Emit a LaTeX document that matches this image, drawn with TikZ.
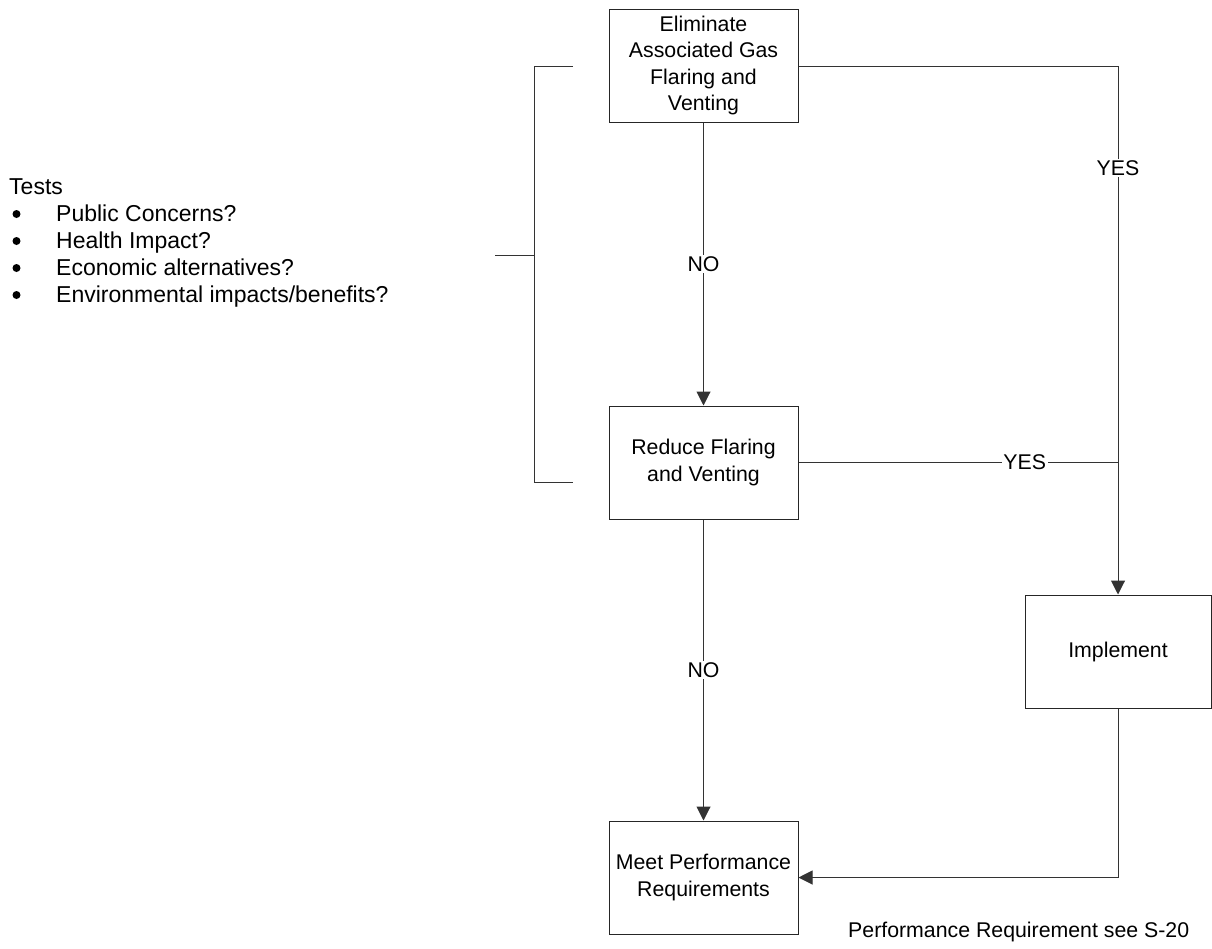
\documentclass[tikz,border=0pt]{standalone}
\usepackage{fontspec}
\setmainfont{Liberation Sans}
\usetikzlibrary{arrows.meta}
\begin{document}
\begin{tikzpicture}[x=1pt,y=-1pt,
  every node/.style={font=\fontsize{21.3}{26.5}\selectfont},
  listfont/.style={font=\fontsize{23}{27}\selectfont},
  box/.style={draw=black!85, line width=1pt, minimum width=189pt, minimum height=113pt, align=center, inner sep=0pt},
  conn/.style={draw=black!80, line width=1pt},
  arr/.style={draw=black!80, line width=1pt, -{Triangle[length=14pt,width=14pt]}},
  lbl/.style={fill=white, inner sep=1.5pt},
  plain/.style={inner sep=0pt, anchor=base west}]
\useasboundingbox (0,0) rectangle (1212,948);
\node[box] (elim) at (703.5,65.5) {Eliminate\\Associated Gas\\Flaring and\\Venting};
\node[box] (red) at (703.5,462.5) {Reduce Flaring\\and Venting};
\node[box, minimum width=186pt] (impl) at (1118,651.5) {Implement};
\node[box] (meet) at (703.5,877.5) {Meet Performance\\Requirements};
% junction coordinates
\coordinate (c1) at (1118,66);
\coordinate (c2) at (1118,462.5);
\coordinate (c3) at (1118,877.5);
% connectors
\draw[arr] (elim.south) -- node[lbl, pos=0.5] (no1) {NO} (red.north);
\draw[conn] (elim.east |- c1) -- (c1);
\draw[arr] (c1) -- node[lbl, pos=0.193] (yes1) {YES} (impl.north);
\draw[conn] (red.east) -- node[lbl, pos=0.708] (yes2) {YES} (c2);
\draw[arr] (red.south) -- node[lbl, pos=0.5] (no2) {NO} (meet.north);
\draw[conn] (impl.south) -- (c3);
\draw[arr] (c3) -- (meet.east);
% bracket
\coordinate (b1) at (573,66);
\coordinate (b2) at (534,66);
\coordinate (b3) at (534,482);
\coordinate (b4) at (573,482);
\coordinate (b5) at (534,255);
\coordinate (b6) at (495,255);
\draw[conn] (b1) -- (b2) -- (b3) -- (b4);
\draw[conn] (b5) -- (b6);
% tests list
\node[plain, listfont] (tests) at (9,194) {Tests};
\foreach \i/\t in {1/{Public Concerns?},2/{Health Impact?},3/{Economic alternatives?},4/{Environmental impacts/benefits?}}{
  \fill (16.5,{194+27*\i-7}) circle (4pt);
  \node[plain, listfont] (item\i) at (56,{194+27*\i}) {\t};
}
\node[plain] (perf) at (848,937) {Performance Requirement see S-20};
\end{tikzpicture}
\end{document}
